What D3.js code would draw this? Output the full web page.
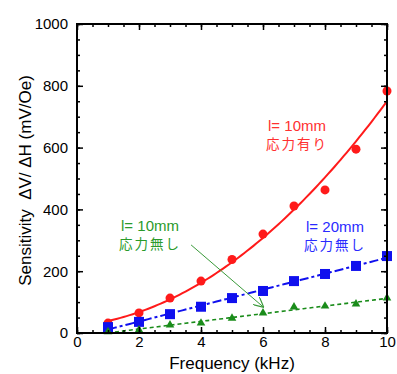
<!DOCTYPE html>
<html>
<head>
<meta charset="utf-8">
<script src="https://cdn.jsdelivr.net/npm/d3@7"></script>
<style>
  body { margin: 0; background: #fff; }
  text { font-family: "Liberation Sans", Arial, sans-serif; }
  .jp { font-family: "Noto Sans CJK JP", sans-serif; }
</style>
</head>
<body>
<script>
// values
const freq = [1, 2, 3, 4, 5, 6, 7, 8, 9, 10];
const red10Stress = [32, 65, 113, 168, 238, 320, 411, 463, 595, 783];
const blue20Free = [19, 36, 61, 85, 113, 136, 168, 191, 217, 249];
const green10Free = [4, 10, 26, 32, 48, 65, 84, 87, 94, 113];
const xTicks = [0, 2, 4, 6, 8, 10];
const yTicks = [0, 200, 400, 600, 800, 1000];

const W = 397, H = 374;
const margin = { top: 24, right: 10, bottom: 41, left: 77 };
const width = W - margin.left - margin.right;
const height = H - margin.top - margin.bottom;

const x = d3.scaleLinear().domain([0, 10]).range([0, width]);
const y = d3.scaleLinear().domain([0, 1000]).range([height, 0]);

const svg = d3.select('body').append('svg')
	.attr('width', W).attr('height', H);
const g = svg.append('g').attr('transform', 'translate(' + margin.left + ',' + margin.top + ')');

// least squares polynomial fit
function polyFit(xs, ys, deg) {
	const n = deg + 1;
	const A = [];
	for (let i = 0; i < n; i++) {
		A.push(new Array(n + 1).fill(0));
		for (let j = 0; j < n; j++) A[i][j] = d3.sum(xs, v => Math.pow(v, i + j));
		A[i][n] = d3.sum(xs, (v, k) => Math.pow(v, i) * ys[k]);
	}
	for (let i = 0; i < n; i++) {
		for (let k = i + 1; k < n; k++) {
			const f = A[k][i] / A[i][i];
			for (let j = i; j <= n; j++) A[k][j] -= f * A[i][j];
		}
	}
	const c = new Array(n).fill(0);
	for (let i = n - 1; i >= 0; i--) {
		let s = A[i][n];
		for (let j = i + 1; j < n; j++) s -= A[i][j] * c[j];
		c[i] = s / A[i][i];
	}
	return v => c.reduce((acc, ci, i) => acc + ci * Math.pow(v, i), 0);
}

const line = d3.line().x(d => x(d[0])).y(d => y(d[1]));
const fitPts = (f) => d3.range(1, 10.01, 0.1).map(v => [v, f(v)]);

const fRed = polyFit(freq, red10Stress, 2);
const fBlue = polyFit(freq, blue20Free, 1);
const fGreen = polyFit(freq, green10Free, 1);

g.append('path').attr('d', line(fitPts(fRed)))
	.attr('fill', 'none').attr('stroke', '#ff1a1a').attr('stroke-width', 2);
g.append('path').attr('d', line(fitPts(fBlue)))
	.attr('fill', 'none').attr('stroke', '#1010ee').attr('stroke-width', 2)
	.attr('stroke-dasharray', '9,3,3,3');
g.append('path').attr('d', line(fitPts(fGreen)))
	.attr('fill', 'none').attr('stroke', '#1a8c1a').attr('stroke-width', 1.6)
	.attr('stroke-dasharray', '4,3');

// markers
g.selectAll('.red').data(freq).enter().append('circle')
	.attr('cx', d => x(d)).attr('cy', (d, i) => y(red10Stress[i]))
	.attr('r', 4.5).attr('fill', '#ff1a1a');
g.selectAll('.blue').data(freq).enter().append('rect')
	.attr('x', d => x(d) - 5).attr('y', (d, i) => y(blue20Free[i]) - 5)
	.attr('width', 10).attr('height', 10).attr('fill', '#1010ee');
const tri = d3.symbol().type(d3.symbolTriangle).size(32);
g.selectAll('.green').data(freq).enter().append('path')
	.attr('d', tri)
	.attr('transform', (d, i) => 'translate(' + x(d) + ',' + y(green10Free[i]) + ')')
	.attr('fill', '#1a8c1a');

// arrow
svg.append('defs').append('marker')
	.attr('id', 'arr').attr('viewBox', '0 0 10 10').attr('refX', 9).attr('refY', 5)
	.attr('markerWidth', 10).attr('markerHeight', 10).attr('orient', 'auto')
	.attr('markerUnits', 'userSpaceOnUse')
	.append('path').attr('d', 'M0,0L10,5L0,10').attr('fill', 'none')
	.attr('stroke', '#3a9a3a').attr('stroke-width', 1.2);
g.append('line')
	.attr('x1', x(3.68)).attr('y1', y(285))
	.attr('x2', x(6.0)).attr('y2', y(85))
	.attr('stroke', '#3a9a3a').attr('stroke-width', 1)
	.attr('marker-end', 'url(#arr)');

// axes with inward ticks
function ticksAxis(axis, sel) {
	sel.call(axis);
	sel.select('.domain').remove();
	sel.selectAll('line').attr('stroke', '#000').attr('stroke-width', 1.5);
}
const xMinor = d3.range(0, 10.01, 0.5);
const yMinor = d3.range(0, 1000.1, 50);

ticksAxis(d3.axisBottom(x).tickValues(xMinor).tickSize(-3).tickFormat(''), g.append('g').attr('transform', 'translate(0,' + height + ')'));
ticksAxis(d3.axisTop(x).tickValues(xMinor).tickSize(-3).tickFormat(''), g.append('g'));
ticksAxis(d3.axisLeft(y).tickValues(yMinor).tickSize(-3).tickFormat(''), g.append('g'));
ticksAxis(d3.axisRight(y).tickValues(yMinor).tickSize(-3).tickFormat(''), g.append('g').attr('transform', 'translate(' + width + ',0)'));

const xb = g.append('g').attr('transform', 'translate(0,' + height + ')');
ticksAxis(d3.axisBottom(x).tickValues(xTicks).tickSize(-6).tickPadding(3).tickFormat(d3.format('d')), xb);
xb.selectAll('text').attr('font-size', 15).attr('fill', '#000').attr('font-family', 'Liberation Sans, Arial, sans-serif');
ticksAxis(d3.axisTop(x).tickValues(xTicks).tickSize(-6).tickFormat(''), g.append('g'));
const yl = g.append('g');
ticksAxis(d3.axisLeft(y).tickValues(yTicks).tickSize(-6).tickPadding(9).tickFormat(d3.format('d')), yl);
yl.selectAll('text').attr('font-size', 15).attr('fill', '#000').attr('font-family', 'Liberation Sans, Arial, sans-serif');
ticksAxis(d3.axisRight(y).tickValues(yTicks).tickSize(-6).tickFormat(''), g.append('g').attr('transform', 'translate(' + width + ',0)'));

// frame
g.append('rect').attr('width', width).attr('height', height)
	.attr('fill', 'none').attr('stroke', '#000').attr('stroke-width', 2);

// axis titles
svg.append('text').attr('x', 232).attr('y', 369)
	.attr('text-anchor', 'middle').attr('font-size', 17).text('Frequency (kHz)');
svg.append('text').attr('transform', 'translate(31,' + (margin.top + height / 2 + 2) + ') rotate(-90)')
	.attr('text-anchor', 'middle').attr('font-size', 17).attr('xml:space', 'preserve')
	.text('Sensitivity  ΔV/ ΔH (mV/Oe)');

// annotations
function label(cx, cy, c, l1, l2) {
	svg.append('text').attr('text-anchor', 'middle').attr('fill', c).attr('font-size', 15)
		.attr('x', cx).attr('y', cy).text(l1);
	svg.append('text').attr('text-anchor', 'middle').attr('fill', c)
		.attr('x', cx).attr('y', cy + 18).attr('class', 'jp').attr('font-size', 13.5)
		.attr('letter-spacing', 2).text(l2);
}
label(297, 131, '#ff3030', 'l= 10mm', '応力有り');
label(335, 232, '#2a2aff', 'l= 20mm', '応力無し');
label(150, 231, '#2a9a2a', 'l= 10mm', '応力無し');
</script>
</body>
</html>
